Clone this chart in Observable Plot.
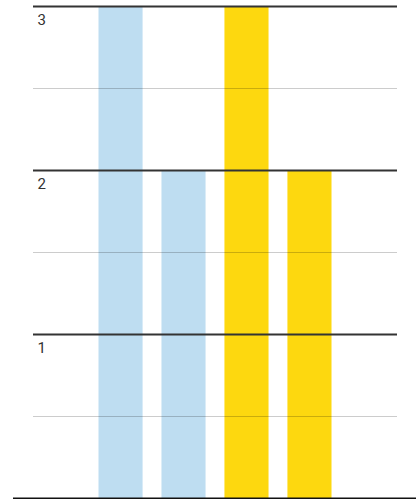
<!DOCTYPE html>
<html>
<head>
<meta charset="utf-8">
<script src="https://cdn.jsdelivr.net/npm/d3@7"></script>
<script src="https://cdn.jsdelivr.net/npm/@observablehq/plot@0.6"></script>
<style>
  html, body { margin: 0; padding: 0; background: #fff; }
  #chart svg { display: block; }
</style>
</head>
<body>
<div id="chart"></div>
<script>
const categories = ["A", "B", "C", "D"];
const values = [3, 2, 3, 2];
const barColors = ["#BEDDF1", "#BEDDF1", "#FDD80F", "#FDD80F"];
const majorTicks = [1, 2, 3];
const minorTicks = [0.5, 1.5, 2.5];
const tickLabels = ["1", "2", "3"];

const data = categories.map((c, i) => ({category: c, value: values[i], color: barColors[i]}));
const labels = majorTicks.map((v, i) => ({value: v, label: tickLabels[i]}));

const chart = Plot.plot({
  width: 416,
  height: 499,
  marginTop: 6,
  marginBottom: 1,
  marginLeft: 33,
  marginRight: 19,
  style: {fontFamily: "Roboto, sans-serif", background: "#fff"},
  x: {domain: categories, axis: null, paddingInner: 0.3, paddingOuter: 1.04, round: false},
  y: {domain: [0, 3], axis: null},
  marks: [
    Plot.barY(data, {x: "category", y: "value", fill: "color"}),
    Plot.ruleY(minorTicks, {stroke: "#000", strokeOpacity: 0.2, strokeWidth: 1}),
    Plot.ruleY(majorTicks, {stroke: "#333", strokeWidth: 2}),
    Plot.ruleY([0], {stroke: "#111", strokeWidth: 2, insetLeft: -20, insetRight: -19}),
    Plot.text(labels, {y: "value", text: "label", frameAnchor: "left", textAnchor: "start", lineAnchor: "top", dx: 4, dy: 8, fontSize: 15, fill: "#333"})
  ]
});
document.getElementById("chart").appendChild(chart);
</script>
</body>
</html>
